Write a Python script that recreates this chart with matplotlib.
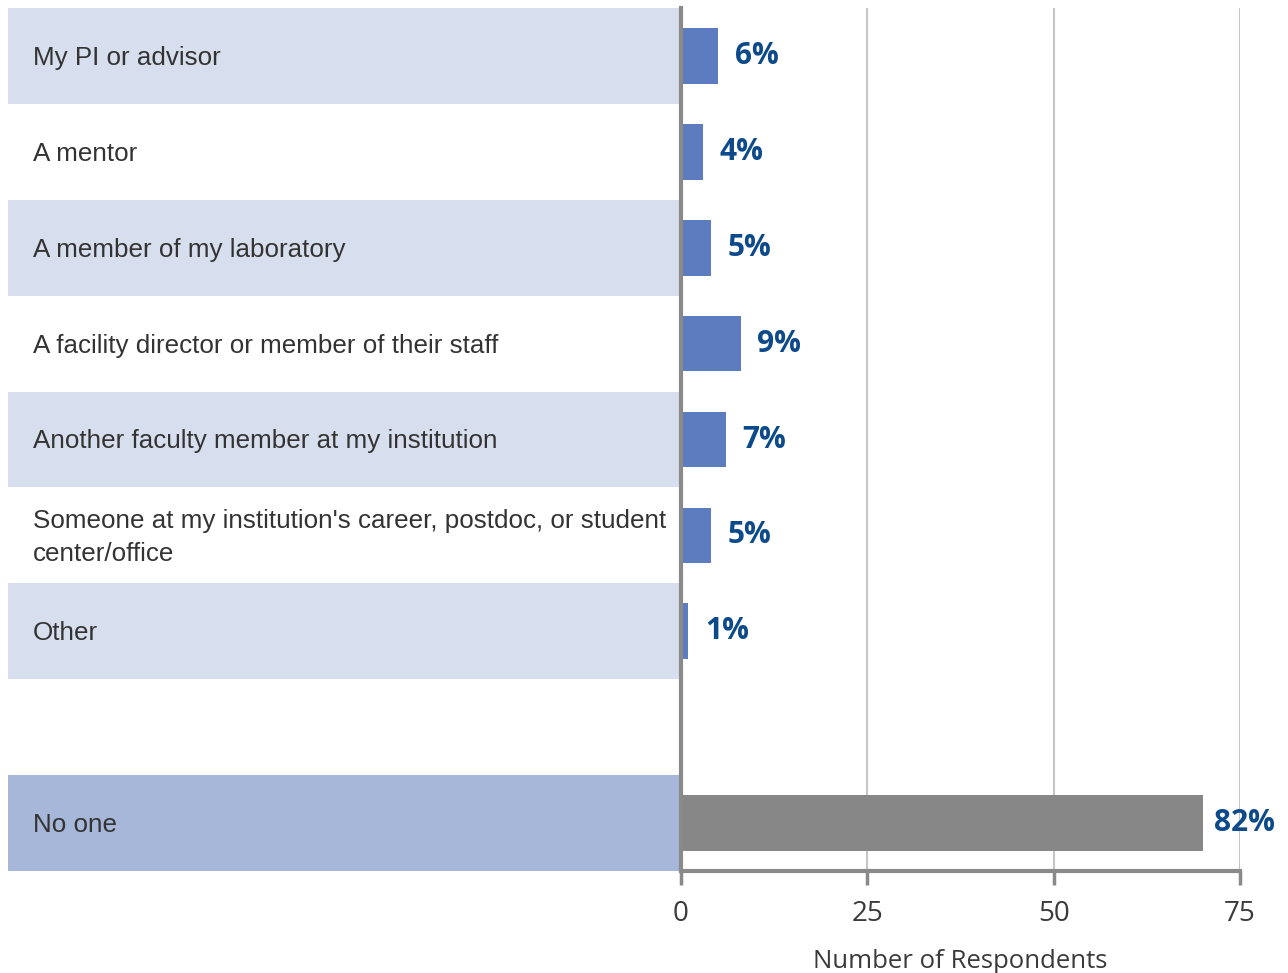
import matplotlib
matplotlib.use("Agg")
import matplotlib.pyplot as plt
from matplotlib.patches import Rectangle

categories = [
    "My PI or advisor",
    "A mentor",
    "A member of my laboratory",
    "A facility director or member of their staff",
    "Another faculty member at my institution",
    "Someone at my institution's career, postdoc, or student\ncenter/office",
    "Other",
    "",
    "No one",
]
counts = [5, 3, 4, 8, 6, 4, 1, None, 70]
pct_labels = ["6%", "4%", "5%", "9%", "7%", "5%", "1%", "", "82%"]
xticks = [0, 25, 50, 75]
xlabel = "Number of Respondents"

W, H = 1288, 973
fig = plt.figure(figsize=(W / 100, H / 100), dpi=100)
x0, x1 = 681, 1240
ytop, ybot = 8, 871
ax = fig.add_axes([x0 / W, 1 - ybot / H, (x1 - x0) / W, (ybot - ytop) / H])

n = len(categories)
ax.set_ylim(n - 0.5, -0.5)
ax.set_xlim(0, 75)

bar_blue = "#5d7cc0"
bar_gray = "#878787"
bg_light = "#d7dfee"
bg_dark = "#a7b7da"
pct_color = "#0d4a8b"

panel_left = -(x0 - 8) / (x1 - x0)
ytrans = ax.get_yaxis_transform()

for i, (cat, c, p) in enumerate(zip(categories, counts, pct_labels)):
    if cat == "":
        continue
    is_last = cat == "No one"
    if i % 2 == 0:
        ax.add_patch(Rectangle((panel_left, i - 0.5), -panel_left, 1.0,
                               transform=ytrans, clip_on=False,
                               facecolor=bg_dark if is_last else bg_light,
                               edgecolor="none", zorder=0))
    ax.text(panel_left + 25 / (x1 - x0), i + 0.02, cat, transform=ytrans,
            ha="left", va="center", fontsize=18.7, color="#333333",
            family="Liberation Sans", linespacing=1.5)
    ax.barh(i, c, height=0.58, color=bar_gray if is_last else bar_blue,
            edgecolor="none", zorder=3)
    ax.text(c + (1.5 if is_last else 2.2), i, p, ha="left", va="center",
            fontsize=21.5, fontweight="bold", color=pct_color,
            family="Open Sans", zorder=4, clip_on=False)

ax.set_xticks(xticks)
ax.set_yticks([])
ax.grid(axis="x", color="#c6c6c6", linewidth=1.5, zorder=1)
ax.set_axisbelow(True)
for s in ["top", "right"]:
    ax.spines[s].set_visible(False)
for s in ["left", "bottom"]:
    ax.spines[s].set_color("#8a8a8a")
    ax.spines[s].set_linewidth(3)
    ax.spines[s].set_zorder(5)
ax.tick_params(axis="x", length=10, width=2.5, color="#8a8a8a",
               labelsize=20, labelcolor="#3a3a3a", pad=11)
for lbl in ax.get_xticklabels():
    lbl.set_family("Open Sans")
ax.set_xlabel(xlabel, fontsize=18.5, color="#3a3a3a", family="Open Sans",
              labelpad=15)
ax.patch.set_alpha(0)

fig.savefig("out.png", dpi=100)
